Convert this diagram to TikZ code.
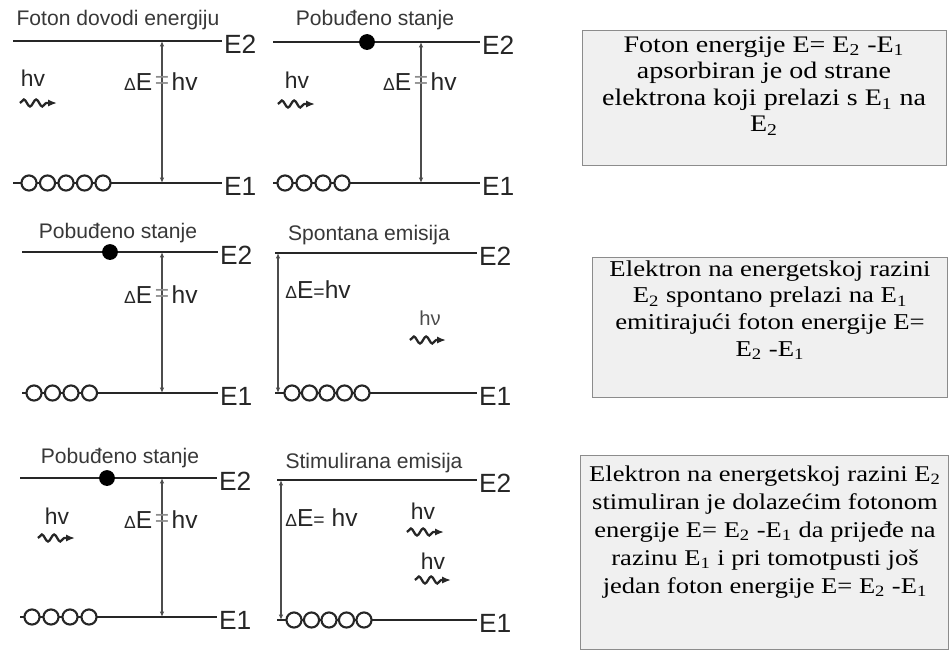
\documentclass[tikz,border=0pt]{standalone}
\usepackage{fontspec}
\setmainfont{Liberation Serif}
\setsansfont{Liberation Sans}
\newfontfamily\boxfont[FakeStretch=1.18]{Liberation Serif}
\usetikzlibrary{arrows.meta,positioning,decorations.pathmorphing}
\tikzset{
  energylevel/.style = {line width=1.6pt, black!85},
  hole/.style = {circle, draw=black!85, line width=1.2pt, fill=white, inner sep=0pt, minimum size=8.6pt},
  electron/.style = {circle, fill=black, inner sep=0pt, minimum size=9pt},
  gap/.style = {{Latex[length=3pt,width=2.5pt]}-{Latex[length=3pt,width=2.5pt]}, line width=0.6pt, black!70},
  photon/.style = {-{Latex[length=5pt,width=4pt]}, line width=1.3pt, black!85, decorate,
    decoration={snake, amplitude=2pt, segment length=7pt, post length=4pt}},
  paneltitle/.style = {font=\sffamily\fontsize{12}{14}\selectfont, text=black!78, inner sep=0pt},
  levellabel/.style = {font=\sffamily\fontsize{15}{17}\selectfont, text=black!85, anchor=west, inner sep=1pt, yshift=-2pt},
  gaptext/.style = {font=\sffamily\fontsize{14}{16}\selectfont, text=black!85, inner sep=0pt},
  hvtext/.style = {font=\sffamily\fontsize{13}{15}\selectfont, text=black!85, inner sep=0pt},
  infobox/.style = {draw=black!45, line width=0.8pt, fill=black!6},
  infotext/.style = {font=\boxfont\fontsize{13.5}{15.1}\selectfont, align=center, inner sep=0pt},
}
\newcommand{\dE}{{\fontsize{10}{10}\selectfont Δ}E}

\begin{document}
\begin{tikzpicture}[x=0.02cm, y=-0.02cm]
\useasboundingbox (0,0) rectangle (952,650);

% absorption
\begin{scope}[shift={(0,0)}]
  \node[paneltitle] (a1title) at (118,20) {Foton dovodi energiju};
  \coordinate (a1up l) at (13,41);  \coordinate (a1up r) at (222,41);
  \coordinate (a1lo l) at (13,183); \coordinate (a1lo r) at (222,183);
  \draw[energylevel] (a1up l) -- (a1up r);
  \draw[energylevel] (a1lo l) -- (a1lo r);
  \node[levellabel] (a1E2) at (a1up r) {E2};
  \node[levellabel] (a1E1) at (a1lo r) {E1};
  \foreach \i in {0,...,4}
    \node[hole] (a1h\i) at (29+18.5*\i,183) {};
  \coordinate (a1gt) at (162,41); \coordinate (a1gb) at (162,183);
  \draw[gap] (a1gt) -- (a1gb);
  \node[gaptext, text=black!45] (a1eq) at (162,82) {=};
  \node[gaptext, left=1pt of a1eq] (a1dE) {\dE};
  \node[gaptext, right=1pt of a1eq] (a1hv) {hv};
  \node[hvtext] (a1in) at (33,78) {hv};
  \coordinate (a1ws) at (20,103); \coordinate (a1we) at (57,103);
  \draw[photon] (a1ws) -- (a1we);
\end{scope}

% excited after absorption
\begin{scope}[shift={(260,0)}]
  \node[paneltitle] (b1title) at (115,20) {Pobuđeno stanje};
  \coordinate (b1up l) at (13,42);  \coordinate (b1up r) at (220,42);
  \coordinate (b1lo l) at (13,183); \coordinate (b1lo r) at (220,183);
  \draw[energylevel] (b1up l) -- (b1up r);
  \draw[energylevel] (b1lo l) -- (b1lo r);
  \node[levellabel] (b1E2) at (b1up r) {E2};
  \node[levellabel] (b1E1) at (b1lo r) {E1};
  \node[electron] (b1e) at (107,42) {};
  \foreach \i in {0,...,3}
    \node[hole] (b1h\i) at (25+19*\i,183) {};
  \coordinate (b1gt) at (161,42); \coordinate (b1gb) at (161,183);
  \draw[gap] (b1gt) -- (b1gb);
  \node[gaptext, text=black!45] (b1eq) at (161,82) {=};
  \node[gaptext, left=1pt of b1eq] (b1dE) {\dE};
  \node[gaptext, right=1pt of b1eq] (b1hv) {hv};
  \node[hvtext] (b1in) at (37,80) {hv};
  \coordinate (b1ws) at (18,104); \coordinate (b1we) at (55,104);
  \draw[photon] (b1ws) -- (b1we);
\end{scope}

% excited state
\begin{scope}[shift={(0,200)}]
  \node[paneltitle] (a2title) at (118,33) {Pobuđeno stanje};
  \coordinate (a2up l) at (22,52);  \coordinate (a2up r) at (218,52);
  \coordinate (a2lo l) at (22,193); \coordinate (a2lo r) at (218,193);
  \draw[energylevel] (a2up l) -- (a2up r);
  \draw[energylevel] (a2lo l) -- (a2lo r);
  \node[levellabel] (a2E2) at (a2up r) {E2};
  \node[levellabel] (a2E1) at (a2lo r) {E1};
  \node[electron] (a2e) at (110,52) {};
  \foreach \i in {0,...,3}
    \node[hole] (a2h\i) at (34+18.5*\i,193) {};
  \coordinate (a2gt) at (162,52); \coordinate (a2gb) at (162,193);
  \draw[gap] (a2gt) -- (a2gb);
  \node[gaptext, text=black!45] (a2eq) at (162,95) {=};
  \node[gaptext, left=1pt of a2eq] (a2dE) {\dE};
  \node[gaptext, right=1pt of a2eq] (a2hv) {hv};
\end{scope}

% spontaneous emission
\begin{scope}[shift={(260,200)}]
  \node[paneltitle] (b2title) at (109,35) {Spontana emisija};
  \coordinate (b2up l) at (15,53);  \coordinate (b2up r) at (217,53);
  \coordinate (b2lo l) at (15,193); \coordinate (b2lo r) at (217,193);
  \draw[energylevel] (b2up l) -- (b2up r);
  \draw[energylevel] (b2lo l) -- (b2lo r);
  \node[levellabel] (b2E2) at (b2up r) {E2};
  \node[levellabel] (b2E1) at (b2lo r) {E1};
  \foreach \i in {0,...,4}
    \node[hole] (b2h\i) at (32+17.5*\i,193) {};
  \coordinate (b2gt) at (18,53); \coordinate (b2gb) at (18,193);
  \draw[gap] (b2gt) -- (b2gb);
  \node[gaptext, anchor=west] (b2dE) at (25,90) {\dE{\fontsize{11}{11}\selectfont =}hv};
  \node[hvtext, font=\sffamily\fontsize{11.5}{13}\selectfont, text=black!70] (b2out) at (170,118) {hν};
  \coordinate (b2ws) at (150,140); \coordinate (b2we) at (186,140);
  \draw[photon] (b2ws) -- (b2we);
\end{scope}

% excited state before stimulation
\begin{scope}[shift={(0,420)}]
  \node[paneltitle] (a3title) at (120,38) {Pobuđeno stanje};
  \coordinate (a3up l) at (20,58);  \coordinate (a3up r) at (217,58);
  \coordinate (a3lo l) at (20,197); \coordinate (a3lo r) at (217,197);
  \draw[energylevel] (a3up l) -- (a3up r);
  \draw[energylevel] (a3lo l) -- (a3lo r);
  \node[levellabel] (a3E2) at (a3up r) {E2};
  \node[levellabel] (a3E1) at (a3lo r) {E1};
  \node[electron] (a3e) at (107,58) {};
  \foreach \i in {0,...,3}
    \node[hole] (a3h\i) at (32+19*\i,197) {};
  \coordinate (a3gt) at (162,58); \coordinate (a3gb) at (162,197);
  \draw[gap] (a3gt) -- (a3gb);
  \node[gaptext, text=black!45] (a3eq) at (162,100) {=};
  \node[gaptext, left=1pt of a3eq] (a3dE) {\dE};
  \node[gaptext, right=1pt of a3eq] (a3hv) {hv};
  \node[hvtext] (a3in) at (57,96) {hv};
  \coordinate (a3ws) at (38,118); \coordinate (a3we) at (75,118);
  \draw[photon] (a3ws) -- (a3we);
\end{scope}

% stimulated emission
\begin{scope}[shift={(260,420)}]
  \node[paneltitle] (b3title) at (114,43) {Stimulirana emisija};
  \coordinate (b3up l) at (17,60);  \coordinate (b3up r) at (217,60);
  \coordinate (b3lo l) at (17,200); \coordinate (b3lo r) at (217,200);
  \draw[energylevel] (b3up l) -- (b3up r);
  \draw[energylevel] (b3lo l) -- (b3lo r);
  \node[levellabel] (b3E2) at (b3up r) {E2};
  \node[levellabel] (b3E1) at (b3lo r) {E1};
  \foreach \i in {0,...,4}
    \node[hole] (b3h\i) at (34+17.5*\i,200) {};
  \coordinate (b3gt) at (21,60); \coordinate (b3gb) at (21,200);
  \draw[gap] (b3gt) -- (b3gb);
  \node[gaptext, anchor=west] (b3dE) at (25,98) {\dE{\fontsize{11}{11}\selectfont =}~hv};
  \node[hvtext] (b3out1) at (163,91) {hv};
  \coordinate (b3ws1) at (147,112); \coordinate (b3we1) at (184,112);
  \draw[photon] (b3ws1) -- (b3we1);
  \node[hvtext] (b3out2) at (173,141) {hv};
  \coordinate (b3ws2) at (155,160); \coordinate (b3we2) at (191,160);
  \draw[photon] (b3ws2) -- (b3we2);
\end{scope}

% explanations
\node[infobox, anchor=north west, minimum width=364*0.02cm, minimum height=135*0.02cm] (box1) at (582,30) {};
\node[infotext] (box1txt) at (764,86)
  {Foton energije E= E\textsubscript{2} -E\textsubscript{1}\\
   apsorbiran je od strane\\
   elektrona koji prelazi s E\textsubscript{1} na\\
   E\textsubscript{2}};

\node[infobox, anchor=north west, minimum width=355*0.02cm, minimum height=140*0.02cm] (box2) at (592,257) {};
\node[infotext, font=\boxfont\fontsize{12.9}{15.1}\selectfont] (box2txt) at (770,310)
  {Elektron na energetskoj razini\\
   E\textsubscript{2} spontano prelazi na E\textsubscript{1}\\
   emitirajući foton energije E=\\
   E\textsubscript{2} -E\textsubscript{1}};

\node[infobox, anchor=north west, minimum width=368*0.02cm, minimum height=194*0.02cm] (box3) at (580,455) {};
\node[infotext, font=\boxfont\fontsize{12.8}{15.9}\selectfont] (box3txt) at (765,532)
  {Elektron na energetskoj razini E\textsubscript{2}\\
   stimuliran je dolazećim fotonom\\
   energije E= E\textsubscript{2} -E\textsubscript{1} da prijeđe na\\
   razinu E\textsubscript{1} i pri tomotpusti još\\
   jedan foton energije E= E\textsubscript{2} -E\textsubscript{1}};
\end{tikzpicture}
\end{document}
